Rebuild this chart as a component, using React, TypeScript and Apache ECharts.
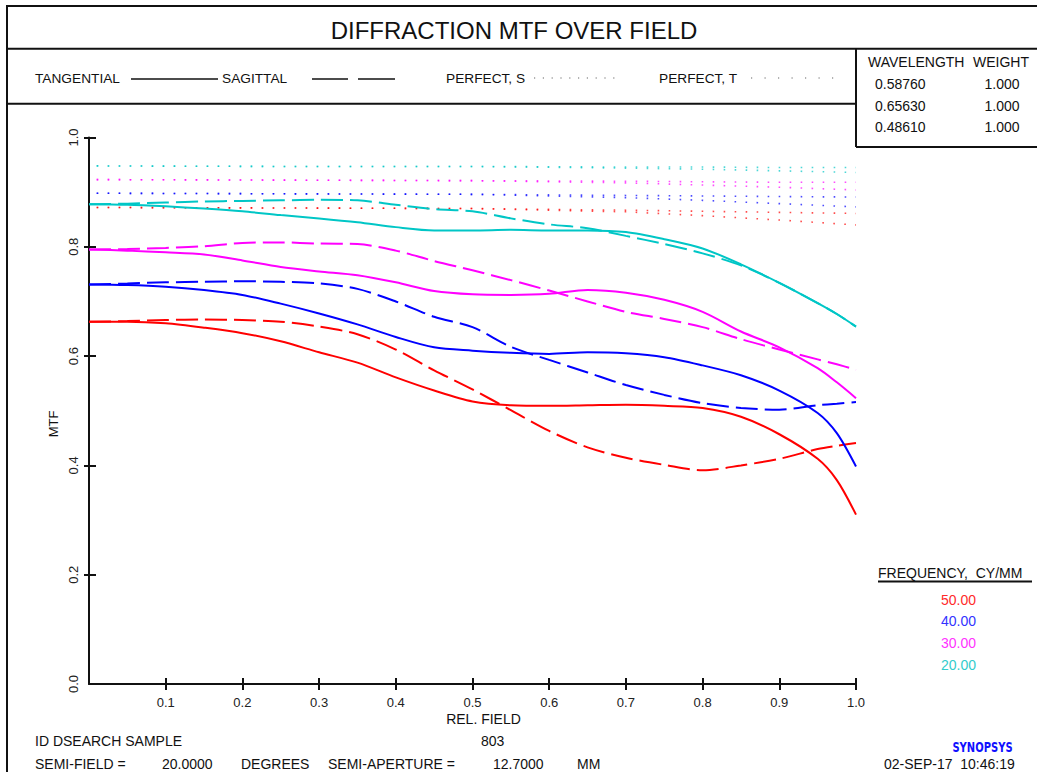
import React, { useEffect, useRef } from "react";
import * as echarts from "echarts";

const FONT = '"Liberation Sans", Arial, Helvetica, sans-serif';

// ---- data ----
const FIELD = [0, 0.05, 0.1, 0.15, 0.2, 0.25, 0.3, 0.35, 0.4, 0.45, 0.5, 0.55, 0.6, 0.65, 0.7, 0.75, 0.8, 0.85, 0.9, 0.95, 0.975, 1.0];

const RED_T = [0.663, 0.663, 0.66, 0.652, 0.642, 0.627, 0.607, 0.588, 0.561, 0.537, 0.517, 0.51, 0.509, 0.51, 0.511, 0.509, 0.505, 0.489, 0.457, 0.412, 0.373, 0.31];
const RED_S = [0.663, 0.664, 0.666, 0.667, 0.666, 0.663, 0.654, 0.64, 0.612, 0.574, 0.539, 0.501, 0.463, 0.433, 0.414, 0.401, 0.391, 0.4, 0.412, 0.43, 0.436, 0.441];
const BLUE_T = [0.731, 0.73, 0.727, 0.721, 0.712, 0.696, 0.678, 0.658, 0.635, 0.616, 0.61, 0.606, 0.604, 0.607, 0.605, 0.598, 0.583, 0.565, 0.537, 0.496, 0.459, 0.398];
const BLUE_S = [0.731, 0.733, 0.735, 0.736, 0.737, 0.736, 0.733, 0.723, 0.7, 0.672, 0.653, 0.617, 0.593, 0.57, 0.547, 0.529, 0.514, 0.505, 0.502, 0.51, 0.513, 0.516];
const MAG_T = [0.795, 0.793, 0.79, 0.786, 0.775, 0.763, 0.755, 0.748, 0.735, 0.719, 0.713, 0.712, 0.714, 0.721, 0.716, 0.703, 0.681, 0.645, 0.616, 0.578, 0.552, 0.523];
const MAG_S = [0.795, 0.796, 0.798, 0.801, 0.807, 0.808, 0.806, 0.805, 0.793, 0.774, 0.757, 0.739, 0.72, 0.7, 0.681, 0.668, 0.653, 0.631, 0.612, 0.594, 0.585, 0.575];
const CYAN_T = [0.878, 0.877, 0.874, 0.87, 0.865, 0.858, 0.852, 0.845, 0.836, 0.83, 0.83, 0.831, 0.83, 0.83, 0.827, 0.814, 0.797, 0.768, 0.734, 0.697, 0.677, 0.654];
const CYAN_S = [0.878, 0.879, 0.881, 0.883, 0.884, 0.885, 0.886, 0.885, 0.877, 0.869, 0.865, 0.852, 0.841, 0.834, 0.82, 0.805, 0.788, 0.766, 0.734, 0.697, 0.677, 0.654];

const PERFECT_FIELD = [0.01, 0.25, 0.5, 0.7, 0.8, 0.9, 1.0];
const RED_PS = [0.872, 0.871, 0.87, 0.867, 0.865, 0.863, 0.861];
const RED_PT = [0.872, 0.871, 0.87, 0.864, 0.857, 0.849, 0.84];
const BLUE_PS = [0.898, 0.897, 0.896, 0.894, 0.893, 0.892, 0.891];
const BLUE_PT = [0.898, 0.897, 0.896, 0.89, 0.885, 0.879, 0.873];
const MAG_PS = [0.923, 0.922, 0.921, 0.92, 0.919, 0.918, 0.918];
const MAG_PT = [0.923, 0.922, 0.921, 0.917, 0.913, 0.909, 0.904];
const CYAN_PS = [0.948, 0.947, 0.947, 0.946, 0.946, 0.945, 0.945];
const CYAN_PT = [0.948, 0.947, 0.947, 0.944, 0.942, 0.939, 0.936];

const FREQ_LABELS = ["50.00", "40.00", "30.00", "20.00"];
const COLORS = ["#ff0000", "#0000ff", "#ff00ff", "#00c6c6"];
const LABEL_COLORS = ["#ff2a2a", "#3333ff", "#ff33ff", "#33cccc"];

const X_TICKS = [0.1, 0.2, 0.3, 0.4, 0.5, 0.6, 0.7, 0.8, 0.9, 1.0];
const Y_LABELS = [0, 0.2, 0.4, 0.6, 0.8, 1.0];
const Y_TICKS = [0.2, 0.4, 0.6, 0.8, 1.0];

const WAVELENGTHS = ["0.58760", "0.65630", "0.48610"];
const WEIGHTS = ["1.000", "1.000", "1.000"];

const pairs = (xs: number[], ys: number[]) => xs.map((x, i) => [x, ys[i]]);

export default function App() {
  const ref = useRef<HTMLDivElement>(null);
  useEffect(() => {
    if (!ref.current) return;
    const chart = echarts.init(ref.current, undefined, { renderer: "svg" });

    const curveSets = [
      [RED_T, RED_S],
      [BLUE_T, BLUE_S],
      [MAG_T, MAG_S],
      [CYAN_T, CYAN_S],
    ];
    const perfectSets = [
      [RED_PS, RED_PT],
      [BLUE_PS, BLUE_PT],
      [MAG_PS, MAG_PT],
      [CYAN_PS, CYAN_PT],
    ];

    const series: any[] = [];
    perfectSets.forEach((set, i) => {
      series.push({
        type: "line",
        name: "perfS" + i,
        data: pairs(PERFECT_FIELD, set[0]),
        symbol: "none",
        silent: true,
        lineStyle: { color: COLORS[i], width: 1.6, type: [1.6, 9.4], opacity: 0.7 },
      });
      series.push({
        type: "line",
        name: "perfT" + i,
        data: pairs(PERFECT_FIELD, set[1]),
        symbol: "none",
        silent: true,
        lineStyle: { color: COLORS[i], width: 1.6, type: [1.6, 9.4], opacity: 0.7 },
      });
    });
    curveSets.forEach((set, i) => {
      series.push({
        type: "line",
        name: "T" + i,
        data: pairs(FIELD, set[0]),
        symbol: "none",
        smooth: 0.3,
        silent: true,
        lineStyle: { color: COLORS[i], width: 2 },
      });
      series.push({
        type: "line",
        name: "S" + i,
        data: pairs(FIELD, set[1]),
        symbol: "none",
        smooth: 0.3,
        silent: true,
        lineStyle: { color: COLORS[i], width: 2, type: [22, 7] },
      });
    });

    const txt = (text: string, x: number, y: number, opts: any = {}) => ({
      type: "text",
      x,
      y,
      rotation: opts.rotation || 0,
      scaleX: opts.scaleX || 1,
      silent: true,
      style: {
        text,
        fill: opts.fill || "#111",
        fontFamily: opts.family || FONT,
        fontSize: opts.size || 14,
        fontWeight: opts.weight || "normal",
        textAlign: opts.align || "left",
        textVerticalAlign: "middle",
      },
    });
    const ln = (x1: number, y1: number, x2: number, y2: number, w = 2, dash?: number[], stroke = "#111") => ({
      type: "line",
      silent: true,
      shape: { x1, y1, x2, y2 },
      style: { stroke, lineWidth: w, lineDash: dash },
    });

    const graphic: any[] = [
      // frame
      { type: "rect", silent: true, shape: { x: 7, y: 6, width: 1100, height: 1000 }, style: { fill: "none", stroke: "#111", lineWidth: 2 } },
      ln(7, 48.7, 1100, 48.7),
      ln(7, 103.8, 856, 103.8),
      ln(856, 48.7, 856, 147),
      ln(856, 147, 1100, 147),
      // title
      txt("DIFFRACTION MTF OVER FIELD", 514, 30.5, { size: 24, align: "center" }),
      // legend row
      txt("TANGENTIAL", 35, 78, { size: 13.7 }),
      ln(131, 79, 218, 79, 1.5),
      txt("SAGITTAL", 222, 78, { size: 13.7 }),
      ln(312, 79, 348, 79, 1.5),
      ln(358, 79, 395, 79, 1.5),
      txt("PERFECT, S", 446, 78, { size: 13.7 }),
      ln(534, 78, 622, 78, 1.2, [1.2, 7.6], "#666"),
      txt("PERFECT, T", 659, 78, { size: 13.7 }),
      ln(751, 78, 838, 78, 1.2, [1.2, 12.3], "#666"),
      // wavelength table
      txt("WAVELENGTH", 868, 61.5, { size: 14 }),
      txt("WEIGHT", 973, 61.5, { size: 14 }),
      ...WAVELENGTHS.flatMap((w, i) => [
        txt(w, 875, 84 + i * 21.7, { size: 14 }),
        txt(WEIGHTS[i], 1019.5, 84 + i * 21.7, { size: 14, align: "right" }),
      ]),
      // frequency legend
      txt("FREQUENCY,  CY/MM", 878, 572.5, { size: 14 }),
      ln(878, 581.5, 1032, 581.5, 2),
      ...FREQ_LABELS.map((f, i) => txt(f, 941, 599.5 + i * 21.9, { size: 14, fill: LABEL_COLORS[i] })),
      // axis titles
      txt("MTF", 53, 424, { size: 13, align: "center", rotation: Math.PI / 2 }),
      txt("REL. FIELD", 483.5, 718.5, { size: 14, align: "center" }),
      // footer
      txt("ID DSEARCH SAMPLE", 35, 741, { size: 14 }),
      txt("803", 481, 741, { size: 14 }),
      txt("SEMI-FIELD =", 35, 764, { size: 14 }),
      txt("20.0000", 162, 764, { size: 14 }),
      txt("DEGREES", 241, 764, { size: 14 }),
      txt("SEMI-APERTURE =", 328, 764, { size: 14 }),
      txt("12.7000", 493, 764, { size: 14 }),
      txt("MM", 577, 764, { size: 14 }),
      txt("SYNOPSYS", 982.5, 747.5, {
        size: 13.5,
        weight: "bold",
        fill: "#1010ff",
        align: "center",
        family: '"DejaVu Sans", "Liberation Sans", sans-serif',
        scaleX: 0.74,
      }),
      txt("02-SEP-17  10:46:19", 884, 763.5, { size: 14 }),
    ];

    const axisLineStyle = { color: "#111", width: 2 };
    chart.setOption({
      animation: false,
      backgroundColor: "#fff",
      grid: { left: 89, right: 181, top: 137.5, bottom: 88, containLabel: false },
      xAxis: [
        {
          type: "value",
          min: 0,
          max: 1,
          interval: 0.1,
          position: "bottom",
          axisLine: { show: true, lineStyle: axisLineStyle },
          axisTick: { show: true, customValues: X_TICKS, length: 6, lineStyle: axisLineStyle },
          axisLabel: {
            customValues: X_TICKS,
            formatter: (v: number) => v.toFixed(1),
            margin: 12,
            fontSize: 13,
            color: "#222",
            fontFamily: FONT,
          },
          splitLine: { show: false },
        },
        {
          type: "value",
          min: 0,
          max: 1,
          interval: 0.1,
          position: "bottom",
          axisLine: { show: false },
          axisTick: { show: true, inside: true, customValues: X_TICKS, length: 6, lineStyle: axisLineStyle },
          axisLabel: { show: false },
          splitLine: { show: false },
        },
      ],
      yAxis: [
        {
          type: "value",
          min: 0,
          max: 1,
          interval: 0.2,
          position: "left",
          axisLine: { show: true, lineStyle: axisLineStyle },
          axisTick: { show: true, customValues: Y_TICKS, length: 5, lineStyle: axisLineStyle },
          axisLabel: {
            customValues: Y_LABELS,
            formatter: (v: number) => v.toFixed(1),
            rotate: 90,
            margin: 9,
            fontSize: 13,
            color: "#222",
            fontFamily: FONT,
          },
          splitLine: { show: false },
        },
        {
          type: "value",
          min: 0,
          max: 1,
          interval: 0.2,
          position: "left",
          axisLine: { show: false },
          axisTick: { show: true, inside: true, customValues: Y_TICKS, length: 7, lineStyle: axisLineStyle },
          axisLabel: { show: false },
          splitLine: { show: false },
        },
      ],
      series,
      graphic,
    });
    return () => chart.dispose();
  }, []);

  return (
    <div
      ref={ref}
      style={{ position: "fixed", left: 0, top: 0, width: 1037, height: 772, background: "#fff" }}
    />
  );
}
